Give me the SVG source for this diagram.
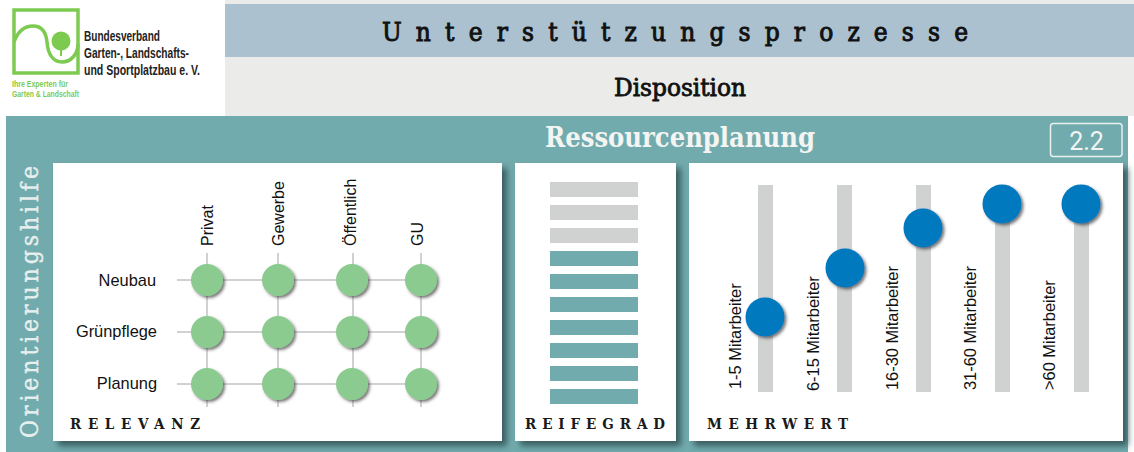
<svg xmlns="http://www.w3.org/2000/svg" width="1134" height="452" viewBox="0 0 1134 452">
<defs>
<filter id="ps" x="-5%" y="-5%" width="112%" height="112%"><feDropShadow dx="5" dy="5" stdDeviation="3" flood-color="#2f5052" flood-opacity="0.85"/></filter>
<filter id="cs" x="-30%" y="-30%" width="170%" height="170%"><feDropShadow dx="2" dy="2" stdDeviation="1.6" flood-color="#333" flood-opacity="0.65"/></filter>
</defs>
<style>
.s{font-family:"Liberation Sans",Arial,sans-serif;fill:#111}
.l{font-size:16.400px;text-anchor:end}
.c{font-size:16px}
.m{font-size:16.400px}
.sf{font-family:"DejaVu Serif Condensed","DejaVu Serif",serif}
.h{font-family:"DejaVu Serif Condensed","DejaVu Serif",serif;font-weight:bold;fill:#1a1a1a;font-size:15px}
.n{font-family:"Liberation Sans Narrow","Liberation Sans",sans-serif;font-weight:bold}
.panel{fill:#fff;filter:url(#ps)}
.g{fill:#d0d2d1}.t{fill:#72abad}
.ln{stroke:#d0d2d1;stroke-width:2;fill:none}
.gc{fill:#8bcb8f;filter:url(#cs)}
.bc{fill:#0279bf;filter:url(#cs)}
</style>
<rect width="1134" height="452" fill="#fff"/>
<g id="logo">
<rect x="14" y="10" width="64" height="63" fill="#fff" stroke="#7ccb50" stroke-width="3.500"/>
<path d="M14 42C18 31 25 26 33 26C42 26 46 32 47 42C48 54 53 62 62 62C71 62 78 54 78 44" fill="none" stroke="#7ccb50" stroke-width="3.500"/>
<circle cx="61" cy="41" r="9.500" fill="#7ccb50"/><rect x="60" y="48" width="2" height="8" fill="#7ccb50"/>
<text class="n" x="84" y="41" font-size="15" fill="#222" textLength="76" lengthAdjust="spacingAndGlyphs">Bundesverband</text>
<text class="n" x="84" y="58" font-size="15" fill="#222" textLength="105" lengthAdjust="spacingAndGlyphs">Garten-, Landschafts-</text>
<text class="n" x="84" y="75" font-size="15" fill="#222" textLength="116" lengthAdjust="spacingAndGlyphs">und Sportplatzbau e. V.</text>
<text class="n" x="12" y="87" font-size="9" fill="#7ccb50" textLength="56" lengthAdjust="spacingAndGlyphs">Ihre Experten für</text>
<text class="n" x="12" y="97" font-size="9" fill="#7ccb50" textLength="67" lengthAdjust="spacingAndGlyphs">Garten &amp; Landschaft</text>
</g>
<g id="header">
<rect x="225" y="0" width="909" height="116" fill="#ebebea"/>
<rect x="225" y="4" width="909" height="53" fill="#abc1cf"/>
<text class="sf" x="382" y="41" font-size="26" fill="#111" stroke="#111" stroke-width="0.900" textLength="586" lengthAdjust="spacing">Unterstützungsprozesse</text>
<text class="sf" x="680" y="96" font-size="25" fill="#111" stroke="#111" stroke-width="0.800" text-anchor="middle" textLength="132" lengthAdjust="spacingAndGlyphs">Disposition</text>
</g>
<g id="band">
<rect x="6" y="116" width="1122" height="336" fill="#72abad"/>
<text class="sf" x="680" y="147" font-size="28" font-weight="bold" fill="#f4f5f3" text-anchor="middle" textLength="270" lengthAdjust="spacingAndGlyphs">Ressourcenplanung</text>
<rect x="1050.500" y="123.500" width="71.500" height="33" rx="3" fill="none" stroke="#e8f0ef" stroke-width="1.500"/>
<text x="1086.500" y="150" font-family="Roboto,sans-serif" font-size="25" fill="#f0f5f4" text-anchor="middle">2.2</text>
<text class="sf" transform="translate(38,438) rotate(-90)" font-size="24.500" fill="#e8f0ef" stroke="#e8f0ef" stroke-width="0.400" textLength="272" lengthAdjust="spacing">Orientierungshilfe</text>
</g>
<g id="relevanz">
<rect class="panel" x="53" y="163" width="449" height="278"/>
<g id="grid">
<path class="ln" d="M177 280H437M177 332H437M177 384H437M207 253V407M278 253V407M353 253V407M421 253V407"/>
</g>
<text class="s c" transform="translate(213,246) rotate(-90)">Privat</text>
<text class="s c" transform="translate(284,246) rotate(-90)">Gewerbe</text>
<text class="s c" transform="translate(356,246) rotate(-90)">Öffentlich</text>
<text class="s c" transform="translate(423,246) rotate(-90)">GU</text>
<text class="s l" x="156" y="286">Neubau</text>
<text class="s l" x="157" y="337">Grünpflege</text>
<text class="s l" x="157" y="389">Planung</text>
<g id="dots">
<circle class="gc" cx="207" cy="280" r="16"/><circle class="gc" cx="278" cy="280" r="16"/><circle class="gc" cx="352" cy="280" r="16"/><circle class="gc" cx="421" cy="280" r="16"/>
<circle class="gc" cx="207" cy="332" r="16"/><circle class="gc" cx="278" cy="332" r="16"/><circle class="gc" cx="352" cy="332" r="16"/><circle class="gc" cx="421" cy="332" r="16"/>
<circle class="gc" cx="207" cy="384" r="16"/><circle class="gc" cx="278" cy="384" r="16"/><circle class="gc" cx="352" cy="384" r="16"/><circle class="gc" cx="421" cy="384" r="16"/>
</g>
<text class="h" x="70" y="429" textLength="130" lengthAdjust="spacing">RELEVANZ</text>
</g>
<g id="reifegrad">
<rect class="panel" x="515" y="163" width="161" height="278"/>
<rect class="g" x="550" y="182" width="88" height="15"/><rect class="g" x="550" y="205" width="88" height="15"/><rect class="g" x="550" y="228" width="88" height="15"/>
<rect class="t" x="550" y="251" width="88" height="15"/><rect class="t" x="550" y="274" width="88" height="15"/><rect class="t" x="550" y="297" width="88" height="15"/><rect class="t" x="550" y="320" width="88" height="15"/><rect class="t" x="550" y="343" width="88" height="15"/><rect class="t" x="550" y="366" width="88" height="15"/><rect class="t" x="550" y="389" width="88" height="15"/>
<text class="h" x="525" y="429" textLength="140" lengthAdjust="spacing">REIFEGRAD</text>
</g>
<g id="mehrwert">
<rect class="panel" x="689" y="163" width="434" height="278"/>
<rect class="g" x="758" y="185" width="15" height="207"/><rect class="g" x="837" y="185" width="15" height="207"/><rect class="g" x="916" y="185" width="15" height="207"/><rect class="g" x="995" y="185" width="15" height="207"/><rect class="g" x="1074" y="185" width="15" height="207"/>
<text class="s m" transform="translate(741,389) rotate(-90)">1-5 Mitarbeiter</text>
<text class="s m" transform="translate(819,391) rotate(-90)">6-15 Mitarbeiter</text>
<text class="s m" transform="translate(898,390) rotate(-90)">16-30 Mitarbeiter</text>
<text class="s m" transform="translate(976,390) rotate(-90)">31-60 Mitarbeiter</text>
<text class="s m" transform="translate(1055,390) rotate(-90)">&gt;60 Mitarbeiter</text>
<circle class="bc" cx="765" cy="317" r="19.500"/><circle class="bc" cx="845" cy="268" r="19.500"/><circle class="bc" cx="923" cy="228" r="19.500"/><circle class="bc" cx="1002" cy="204" r="19.500"/><circle class="bc" cx="1081" cy="204" r="19.500"/>
<text class="h" x="707" y="429" textLength="141" lengthAdjust="spacing">MEHRWERT</text>
</g>
</svg>
